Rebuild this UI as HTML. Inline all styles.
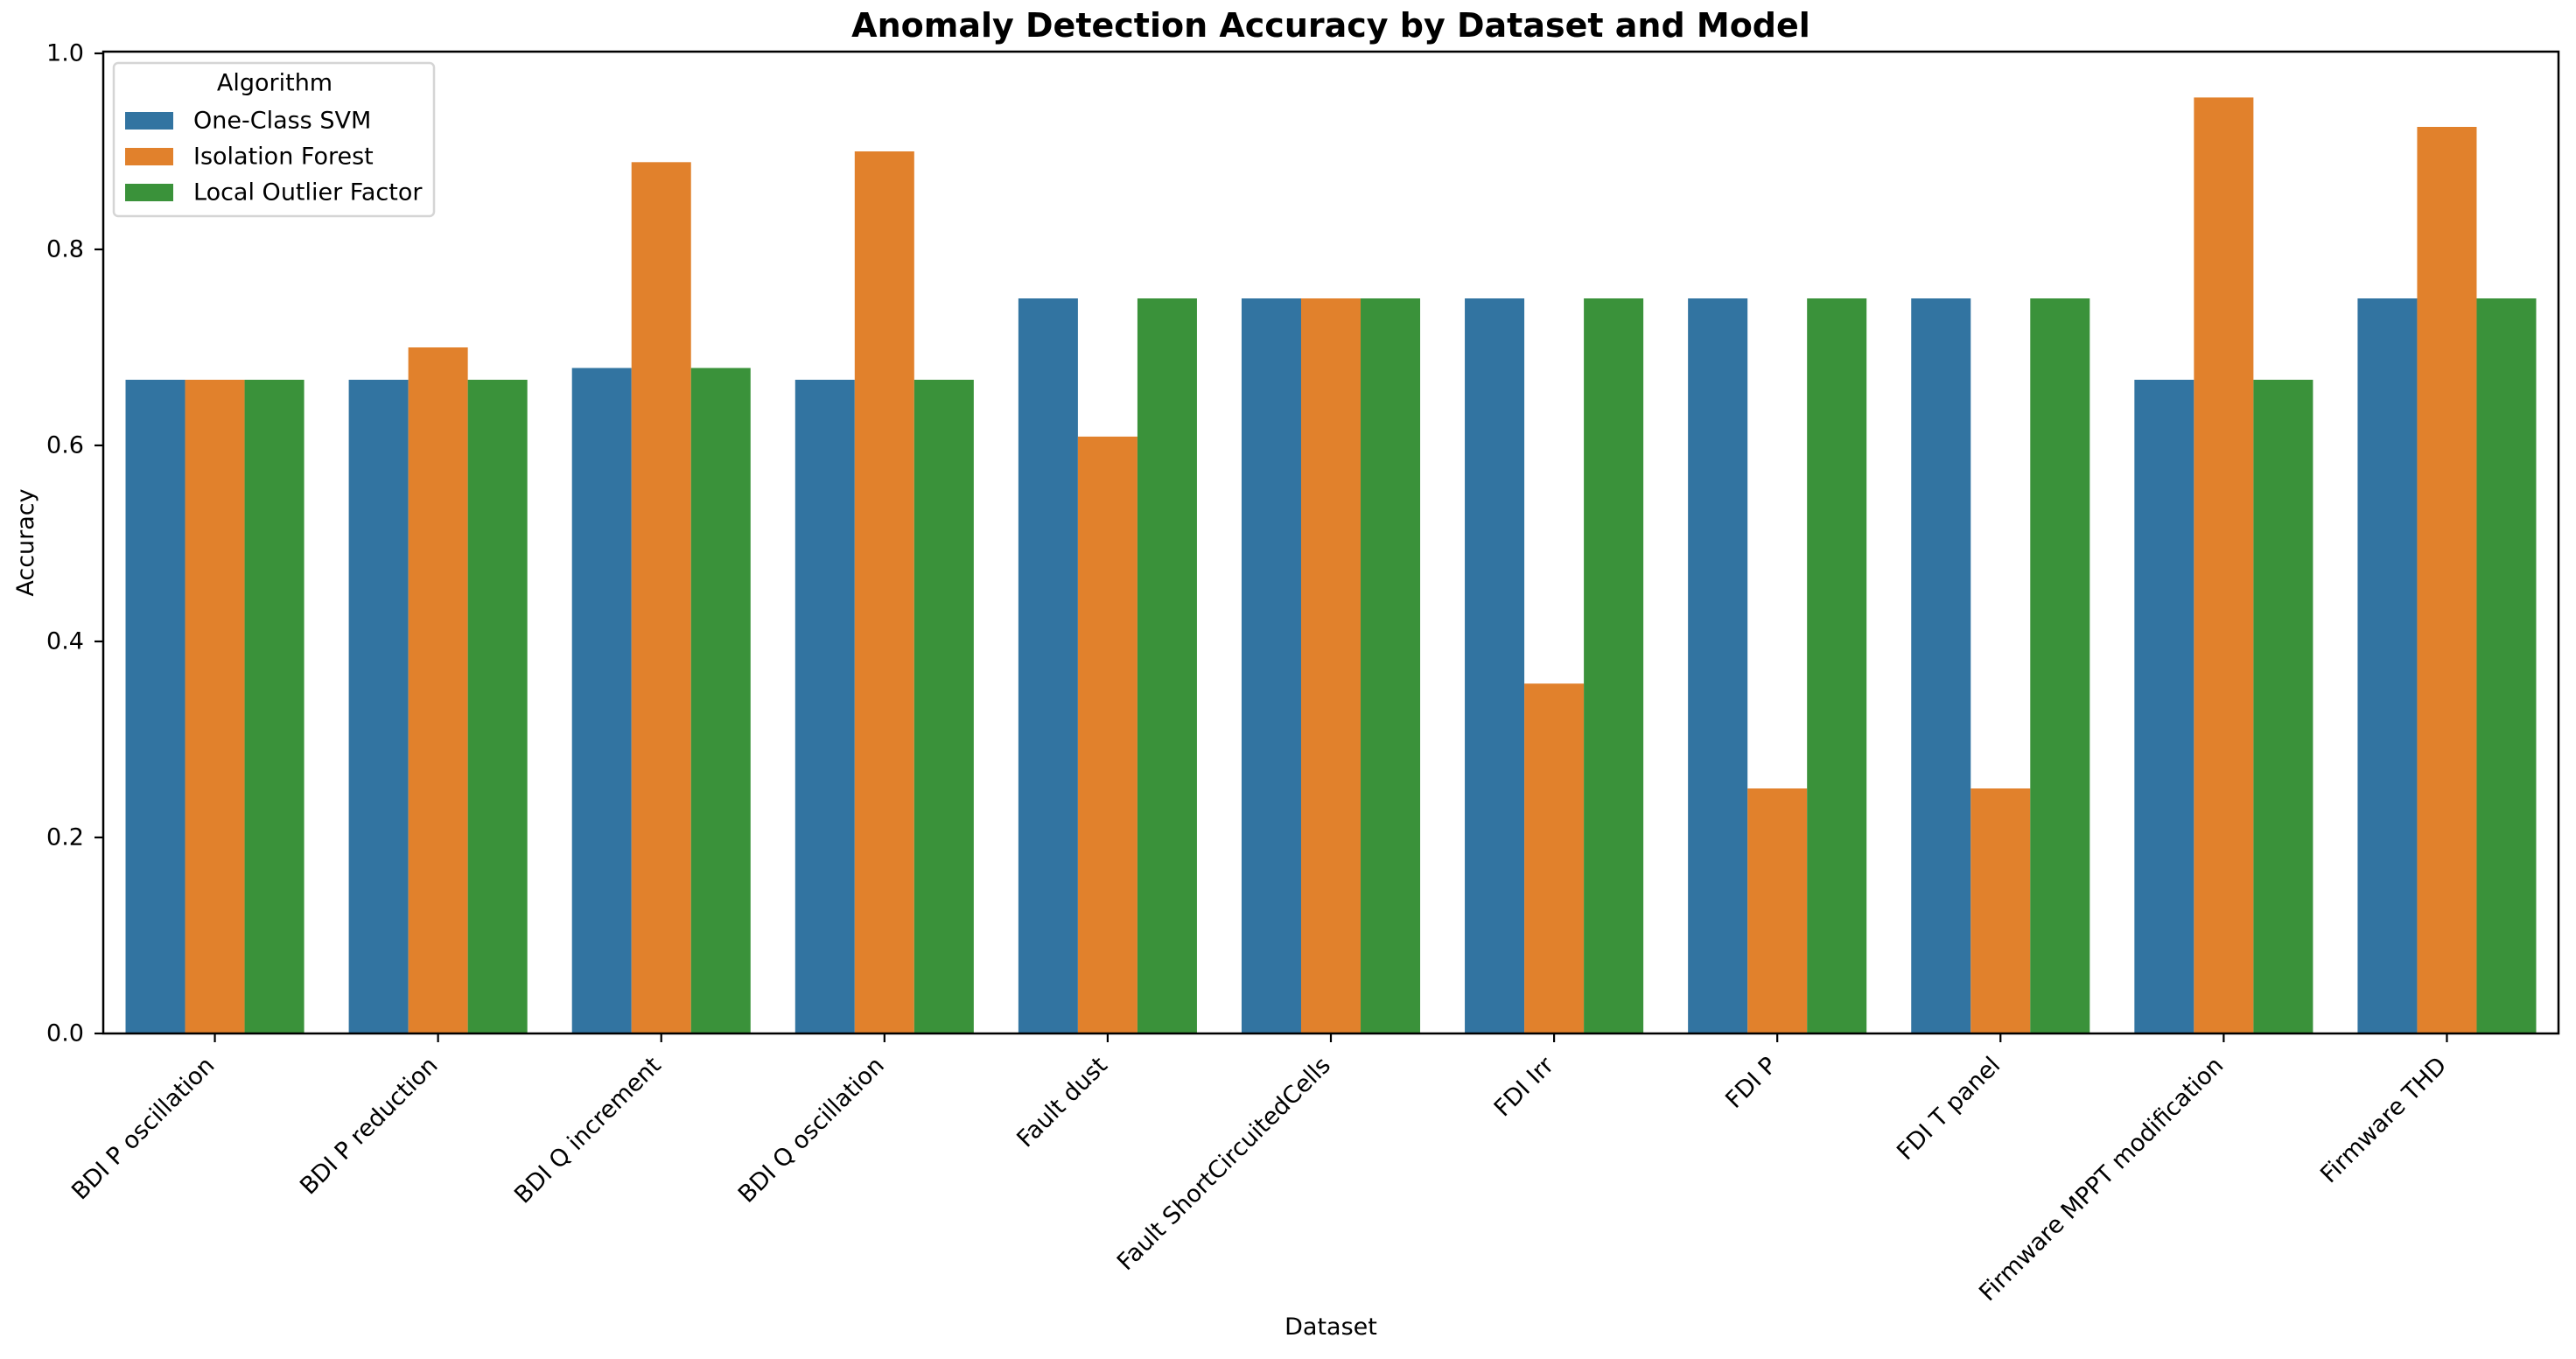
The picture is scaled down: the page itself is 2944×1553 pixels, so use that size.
<!DOCTYPE html>
<html><head><meta charset="utf-8"><style>
body{margin:0;background:#fff}
svg text{font-family:"DejaVu Sans","Liberation Sans",sans-serif;fill:#000}
</style></head><body>
<svg id="chart" width="2944" height="1548" viewBox="0 0 2944 1548" xmlns="http://www.w3.org/2000/svg">
<rect width="2944" height="1548" fill="#fff"/>
<text x="1521" y="42" text-anchor="middle" font-size="38" font-weight="bold">Anomaly Detection Accuracy by Dataset and Model</text>
<g id="bars"></g>
<g id="axes"></g>
<text transform="translate(38,620) rotate(-90)" text-anchor="middle" font-size="27">Accuracy</text>
<text x="1521" y="1525" text-anchor="middle" font-size="27">Dataset</text>
<g>
<rect x="130" y="72" width="366" height="175" rx="5" fill="#fff" fill-opacity="0.8" stroke="#d5d5d5" stroke-width="2.5"/>
<text x="314" y="95" font-size="27" text-anchor="middle" dominant-baseline="central">Algorithm</text>
<rect x="143" y="128" width="55" height="20" fill="#3274a1"/>
<text x="221" y="138" font-size="27" dominant-baseline="central">One-Class SVM</text>
<rect x="143" y="169" width="55" height="20" fill="#e1812c"/>
<text x="221" y="179" font-size="27" dominant-baseline="central">Isolation Forest</text>
<rect x="143" y="210" width="55" height="20" fill="#3a923a"/>
<text x="221" y="220" font-size="27" dominant-baseline="central">Local Outlier Factor</text>
</g>
</svg>
<script>
const categories = ["BDI P oscillation","BDI P reduction","BDI Q increment","BDI Q oscillation","Fault dust","Fault ShortCircuitedCells","FDI Irr","FDI P","FDI T panel","Firmware MPPT modification","Firmware THD"];
const svmValues = [0.667,0.667,0.679,0.667,0.75,0.75,0.75,0.75,0.75,0.667,0.75];
const iforestValues = [0.667,0.70,0.889,0.90,0.609,0.75,0.357,0.25,0.25,0.955,0.925];
const lofValues = [0.667,0.667,0.679,0.667,0.75,0.75,0.75,0.75,0.75,0.667,0.75];
const yTicks = [0,0.2,0.4,0.6,0.8,1.0];
const yTickLabels = ["0.0","0.2","0.4","0.6","0.8","1.0"];

const NS = "http://www.w3.org/2000/svg";
const L = 118, R = 2924, T = 59, B = 1181;
const step = (R - L) / categories.length;
const xCenter = i => L + step * (i + 0.5);
const yScale = v => B - v * 1120;
const series = [
  {name:"svm", vals:svmValues, color:"#3274a1"},
  {name:"iforest", vals:iforestValues, color:"#e1812c"},
  {name:"lof", vals:lofValues, color:"#3a923a"}
];
const bw = step * 0.8 / 3;
const barsG = document.getElementById("bars");
series.forEach((s, si) => {
  s.vals.forEach((v, i) => {
    const r = document.createElementNS(NS, "rect");
    const x = xCenter(i) - 1.5 * bw + si * bw;
    r.setAttribute("x", x);
    r.setAttribute("y", yScale(v));
    r.setAttribute("width", bw);
    r.setAttribute("height", B - yScale(v));
    r.setAttribute("fill", s.color);
    
    
    barsG.appendChild(r);
  });
});
const ax = document.getElementById("axes");
function line(x1,y1,x2,y2,w){const l=document.createElementNS(NS,"line");l.setAttribute("x1",x1);l.setAttribute("y1",y1);l.setAttribute("x2",x2);l.setAttribute("y2",y2);l.setAttribute("stroke","#000");l.setAttribute("stroke-width",w);return l;}
yTicks.forEach((t, i) => {
  const l = line(108, yScale(t), L, yScale(t), 2.2);
  
  
  ax.appendChild(l);
  const tx = document.createElementNS(NS, "text");
  tx.setAttribute("x", 96); tx.setAttribute("y", yScale(t));
  tx.setAttribute("text-anchor", "end"); tx.setAttribute("dominant-baseline", "central");
  tx.setAttribute("font-size", "27");
  tx.textContent = yTickLabels[i];
  
  
  ax.appendChild(tx);
});
categories.forEach((c, i) => {
  const x = xCenter(i);
  const l = line(x, B, x, B + 10, 2.2);
  
  
  ax.appendChild(l);
  const tx = document.createElementNS(NS, "text");
  tx.setAttribute("transform", "translate(" + (x + 1) + "," + 1219 + ") rotate(-45)");
  tx.setAttribute("text-anchor", "end");
  tx.setAttribute("font-size", "27");
  tx.textContent = c;
  
  
  ax.appendChild(tx);
});
const frame = document.createElementNS(NS, "rect");
frame.setAttribute("x", L); frame.setAttribute("y", T);
frame.setAttribute("width", R - L); frame.setAttribute("height", B - T);
frame.setAttribute("fill", "none"); frame.setAttribute("stroke", "#000"); frame.setAttribute("stroke-width", "2.5");


ax.appendChild(frame);
</script>
</body></html>
